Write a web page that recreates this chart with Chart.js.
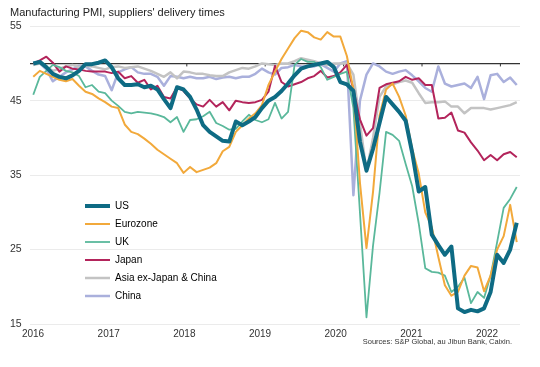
<!DOCTYPE html>
<html>
<head>
<meta charset="utf-8">
<script src="https://cdn.jsdelivr.net/npm/chart.js@4"></script>
<style>
    html, body { margin: 0; padding: 0; background: #fff; }
    #wrap { width: 540px; height: 367px; }
</style>
</head>
<body>
<div id="wrap"><canvas id="pmiChart" width="540" height="367"></canvas></div>
<script>
const titleText = "Manufacturing PMI, suppliers' delivery times";
const sourceText = "Sources: S&P Global, au Jibun Bank, Caixin.";

const yearTicks = [2016, 2017, 2018, 2019, 2020, 2021, 2022];
const valueTicks = [15, 25, 35, 45, 55];

// Jan 2016 .. Mar 2022, one point a month
const months = [];
for (let y = 2016; y <= 2022; y++) {
    for (let m = 1; m <= 12; m++) {
        if (y == 2022 && m > 3) break;
        months.push(y + '-' + String(m).padStart(2, '0'));
    }
}

const us = [
    50.0, 50.2, 49.5, 48.6, 48.2, 48.0, 48.4, 49.0, 49.9, 49.9, 50.1, 50.4,
    49.5, 48.0, 47.1, 47.1, 47.2, 46.8, 47.0, 46.5, 45.2, 44.0, 46.8, 46.5,
    45.5, 43.8, 41.7, 40.8, 40.2, 39.6, 39.5, 42.2, 41.7, 42.2, 42.8, 44.0,
    45.0, 45.5, 46.3, 47.3, 48.4, 49.3, 49.6, 49.8, 50.0, 50.2, 49.5, 47.5,
    47.2, 46.3, 39.5, 35.6, 38.5, 42.0, 45.5, 44.5, 43.5, 42.3, 38.0, 32.8,
    33.4, 27.0, 25.6, 24.3, 25.4, 17.1, 16.6, 16.9, 16.7, 17.1, 19.3, 24.3,
    23.2, 25.0, 28.6
];
const eurozone = [
    48.2, 49.0, 48.6, 48.2, 47.8, 47.6, 47.9, 47.0, 46.2, 45.9, 45.3, 44.8,
    44.2, 44.0, 41.8, 40.8, 40.5, 39.9, 39.2, 38.4, 37.8, 37.2, 36.6, 35.3,
    36.1, 35.4, 35.7, 36.0, 36.6, 38.2, 38.8, 40.8, 41.7, 42.6, 43.3, 44.4,
    47.1, 48.9, 50.6, 52.0, 53.4, 54.4, 54.2, 53.5, 53.2, 54.2, 53.6, 53.6,
    51.0, 46.5, 34.0, 25.2, 32.7, 43.0, 46.5, 47.3, 45.5, 43.0, 38.5, 35.2,
    30.0, 28.0, 24.0, 20.2, 18.8, 19.3, 21.5, 22.8, 22.6, 19.4, 21.5, 25.0,
    26.8, 31.0, 26.0
];
const uk = [
    45.8, 48.2, 49.0, 49.8, 49.5, 49.0, 48.8, 48.3, 46.8, 47.1, 46.2, 46.0,
    45.0, 44.3, 43.5, 43.3, 43.5, 43.4, 43.3, 43.1, 42.8, 42.1, 42.8, 40.8,
    42.4, 42.5, 42.9, 43.5, 42.0, 41.6, 41.1, 41.2, 42.2, 43.1, 42.4, 42.1,
    42.5, 44.7, 42.6, 43.5, 49.8, 50.6, 50.2, 50.2, 49.5, 47.8, 48.2, 48.6,
    48.9, 44.0, 30.0, 15.9, 25.5, 32.6, 40.8, 40.4, 39.6, 36.5, 33.5, 28.5,
    22.5, 22.0, 21.9, 21.5, 19.3, 20.0, 21.2, 17.8, 19.3, 18.5, 21.5, 26.0,
    30.6, 31.8, 33.4
];
const japan = [
    50.0, 50.4, 50.9, 50.1, 48.9, 49.6, 49.3, 49.2, 49.0, 48.9, 48.9, 48.9,
    48.7, 48.9, 48.0, 48.3, 47.4, 47.8, 46.5, 47.0, 45.5, 45.3, 46.8, 46.3,
    45.3, 44.5, 44.2, 45.1, 44.2, 44.8, 43.7, 45.0, 44.8, 44.7, 44.8, 45.1,
    46.2, 49.7, 47.5, 46.9, 47.2, 47.5, 48.0, 48.3, 49.0, 48.1, 48.3, 48.8,
    49.8, 46.5, 42.5, 40.3, 41.3, 46.7, 47.2, 47.4, 47.6, 48.2, 47.8, 48.0,
    47.1, 47.1, 42.6, 42.7, 43.4, 41.0, 40.7, 39.4, 38.3, 37.0, 37.7, 37.0,
    37.8, 38.1, 37.4
];
const asiaExJC = [
    49.8, 50.0, 49.5, 49.0, 49.3, 49.6, 49.8, 49.5, 49.7, 49.6, 49.4, 49.2,
    49.5, 49.6, 49.4, 49.5, 49.6, 49.3, 49.0, 48.6, 48.2, 48.8, 48.0, 48.9,
    48.8, 48.6, 48.6, 48.4, 48.3, 48.3, 48.8, 49.1, 49.4, 49.3, 49.6, 50.0,
    49.9, 49.8, 50.0, 50.0, 50.3, 50.7, 50.5, 50.3, 50.0, 49.8, 50.0, 50.0,
    50.0, 48.5, 42.0, 35.5, 40.0, 45.5, 46.9, 47.2, 47.5, 47.7, 47.4, 46.0,
    44.7, 44.8, 44.8, 44.9, 44.2, 44.2, 43.3, 44.0, 44.0, 44.0, 43.8, 44.0,
    44.2, 44.4, 44.8
];
const china = [
    50.0, 50.0, 49.2, 47.6, 48.2, 48.8, 49.2, 49.7, 49.6, 49.0, 48.5, 48.3,
    46.4, 48.8, 49.2, 49.5, 48.8, 48.6, 48.6, 48.2, 47.0, 48.3, 48.2, 48.0,
    48.2, 48.0, 48.0, 48.2, 47.9, 48.1, 48.2, 48.0, 48.2, 48.2, 48.6, 49.3,
    48.8, 48.5, 49.4, 49.5, 49.8, 49.6, 49.6, 49.6, 49.9, 49.4, 48.9, 50.0,
    50.3, 32.3, 45.0, 48.5, 50.0, 49.6, 48.9, 48.6, 48.9, 49.1, 48.4, 47.6,
    46.7, 46.2, 49.6, 47.3, 46.9, 47.1, 47.3, 46.7, 48.2, 45.2, 48.4, 48.6,
    47.5, 48.1, 47.1
];

const fontFamily = '"Liberation Sans", Arial, sans-serif';

function series(label, data, color, width) {
    return {
        label: label,
        data: data,
        borderColor: color,
        backgroundColor: color,
        borderWidth: width,
        pointRadius: 0,
        tension: 0,
        borderJoinStyle: 'round',
        fill: false
    };
}

// extra bits Chart.js doesn't do by itself
const extras = {
    id: 'extras',
    afterLayout(chart) {
        // legend floats inside the plot area, below the 2017/18 dip
        const lg = chart.legend;
        lg.left = 77;
        lg.top = 193;
        lg.bottom = 193 + 140;
        lg.right = 77 + 160;
    },
    beforeDatasetsDraw(chart) {
        // small tick marks on the 50 line between Dec and Jan
        const ctx = chart.ctx;
        const x = chart.scales.x;
        const y50 = chart.scales.y.getPixelForValue(50);
        ctx.save();
        ctx.strokeStyle = '#333';
        ctx.lineWidth = 1;
        for (let i = 12; i < months.length; i += 12) {
            const px = (x.getPixelForValue(i - 1) + x.getPixelForValue(i)) / 2;
            ctx.beginPath();
            ctx.moveTo(px, y50);
            ctx.lineTo(px, y50 + 3);
            ctx.stroke();
        }
        ctx.restore();
    },
    afterDraw(chart) {
        const ctx = chart.ctx;
        ctx.save();
        ctx.font = '7.5px ' + fontFamily;
        ctx.fillStyle = '#333';
        ctx.textAlign = 'right';
        ctx.textBaseline = 'middle';
        ctx.fillText(sourceText, chart.chartArea.right - 8, chart.chartArea.bottom + 18);
        ctx.restore();
    }
};

function main() {
    Chart.defaults.font.family = fontFamily;
    Chart.defaults.color = '#333';

    new Chart('pmiChart', {
        type: 'line',
        data: {
            labels: months,
            datasets: [
                series('US', us, '#0e6b84', 4),
                series('Eurozone', eurozone, '#f2a93b', 2),
                series('UK', uk, '#5ab89b', 1.8),
                series('Japan', japan, '#b3245b', 2),
                series('Asia ex-Japan & China', asiaExJC, '#c3c3c3', 2.5),
                series('China', china, '#aab0dc', 2.5)
            ]
        },
        options: {
            responsive: false,
            animation: false,
            layout: { padding: { left: 10, right: 20, top: 0, bottom: 29 } },
            plugins: {
                title: {
                    display: true,
                    text: titleText,
                    align: 'start',
                    color: '#222',
                    font: { size: 11, weight: 'normal' },
                    padding: { top: 6, bottom: 7 }
                },
                legend: {
                    position: 'chartArea',
                    align: 'start',
                    labels: {
                        usePointStyle: true,
                        pointStyleWidth: 25,
                        boxHeight: 10,
                        padding: 8,
                        color: '#222',
                        font: { size: 10 },
                        generateLabels: (chart) => chart.data.datasets.map((ds, i) => ({
                            text: ds.label,
                            strokeStyle: ds.borderColor,
                            fillStyle: ds.borderColor,
                            lineWidth: ds.borderWidth,
                            pointStyle: 'line',
                            hidden: false,
                            datasetIndex: i
                        }))
                    }
                },
                tooltip: { enabled: false }
            },
            scales: {
                x: {
                    type: 'category',
                    offset: true,
                    display: false
                },
                xYears: {
                    type: 'linear',
                    position: 'bottom',
                    min: 2015.96,
                    max: 2022.436,
                    afterBuildTicks: (scale) => {
                        scale.ticks = yearTicks.map((v) => ({ value: v }));
                    },
                    afterFit: (scale) => { scale.height = 14; },
                    grid: { display: false, drawTicks: false },
                    border: { display: false },
                    ticks: {
                        autoSkip: false,
                        maxRotation: 0,
                        padding: 4,
                        font: { size: 10 },
                        callback: (v) => String(v)
                    }
                },
                y: {
                    min: 15,
                    max: 55,
                    afterBuildTicks: (scale) => {
                        // 50 gets the dark reference line, no label
                        scale.ticks = valueTicks.concat([50]).sort((a, b) => a - b).map((v) => ({ value: v }));
                    },
                    afterFit: (scale) => { scale.width = 20; },
                    border: { display: false },
                    grid: {
                        drawTicks: false,
                        color: (c) => c.tick && c.tick.value == 50 ? '#333' : '#ebebeb',
                        lineWidth: (c) => c.tick && c.tick.value == 50 ? 1.3 : 1
                    },
                    ticks: {
                        crossAlign: 'far',
                        padding: 4,
                        font: { size: 10.5 },
                        callback: (v) => v == 50 ? '' : String(v)
                    }
                }
            }
        },
        plugins: [extras]
    });
}

window.onload = main;
</script>
</body>
</html>
